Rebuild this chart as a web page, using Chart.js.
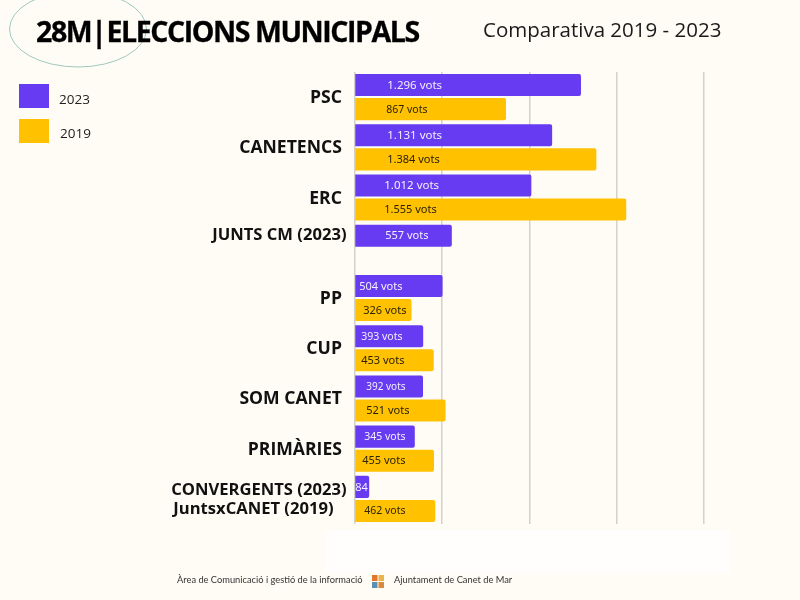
<!DOCTYPE html>
<html lang="ca"><head><meta charset="utf-8">
<script src="https://cdn.jsdelivr.net/npm/chart.js@4"></script>
<style>
html,body{margin:0;padding:0;background:#fffcf6;width:800px;height:600px;overflow:hidden}
#wrap{position:relative;width:800px;height:600px}
canvas{position:absolute;left:0;top:0}
.t{position:absolute;white-space:nowrap;color:#111}
#title{left:36px;top:11px;font:700 28.5px/40px "Open Sans",sans-serif;letter-spacing:-1.42px;-webkit-text-stroke:.3px #000;color:#000}
#title span{margin-left:-5px}
#sub{left:483px;top:14px;font:400 20.5px/30px "Open Sans",sans-serif;color:#1a1a1a}
.sw{position:absolute;left:19px;width:30px;height:23.5px}
.lg{font:400 13.5px/18px "Open Sans",sans-serif;color:#222}
.ft{font:400 9.3px/14px Lato,sans-serif;color:#333;top:573px}
#blank{position:absolute;left:325px;top:530px;width:405px;height:43px;background:#fffefc}
#ell{position:absolute;left:0;top:0}
</style></head><body><div id="wrap">
<div id="blank"></div>
<canvas id="c" width="800" height="600"></canvas>
<svg id="ell" width="800" height="600"><ellipse cx="78" cy="29" rx="68.5" ry="38" fill="none" stroke="#9cc9bd" stroke-width="1"/>
<g><rect x="372" y="575" width="5.5" height="6" fill="#e2762c"/><rect x="378.5" y="575" width="5.5" height="6" fill="#e9b44c"/><rect x="372" y="582" width="5.5" height="6" fill="#5f8fb0"/><rect x="378.5" y="582" width="5.5" height="6" fill="#d98a3a"/></g></svg>
<div class="t" id="title">28M| <span>ELECCIONS MUNICIPALS</span></div>
<div class="t" id="sub">Comparativa 2019 - 2023</div>
<div class="sw" id="s23" style="top:84px"></div><div class="t lg" style="left:59px;top:90px">2023</div>
<div class="sw" id="s19" style="top:119px"></div><div class="t lg" style="left:60px;top:124px">2019</div>
<div class="t ft" style="left:177px">Àrea de Comunicació i gestió de la informació</div>
<div class="t ft" style="left:394px">Ajuntament de Canet de Mar</div>
</div>
<script>
const categories = ["PSC","CANETENCS","ERC","JUNTS CM (2023)","PP","CUP","SOM CANET","PRIMÀRIES",["CONVERGENTS (2023)","JuntsxCANET (2019)"]];
const votes2023 = [1296,1131,1012,557,504,393,392,345,84];
const votes2019 = [867,1384,1555,null,326,453,521,455,462];
const xTicks = [0,500,1000,1500,2000];
const purple = "#673bf2", yellow = "#ffc100";
// label presentation (not data)
const inset2023 = [32,32,29,30,4,6,11,9,0];
const inset2019 = [31,32,29,0,8,6,11,7,9];
const size2023 = [11.5,11.5,11.5,11,11,10.5,10,10.5,11];
const size2019 = [10.5,11,11,0,11,11,11,11,10.5];
const catSize = [17.6,17.6,17.6,16.6,17.6,17.6,17.6,17.6,16.6];
const catLine = [1.15,1.15,1.15,1.6,1.15,1.15,1.15,1.15,1.15];

document.getElementById("s23").style.background = purple;
document.getElementById("s19").style.background = yellow;

const fmt = v => { const s = String(v); const n = s.length>3 ? s.slice(0,-3)+"."+s.slice(-3) : s; return v<100 ? n : n+" vots"; };
const valueLabels = {
  id:"valueLabels",
  afterDatasetsDraw(chart){
    const ctx = chart.ctx;
    [[0,votes2023,inset2023,size2023,"#f4efff"],[1,votes2019,inset2019,size2019,"#2b2300"]].forEach(([d,vals,ins,sz,col])=>{
      const meta = chart.getDatasetMeta(d);
      vals.forEach((v,i)=>{
        if(v==null) return;
        const el = meta.data[i];
        ctx.save();
        ctx.font = `400 ${sz[i]}px "Noto Sans",sans-serif`;
        ctx.fillStyle = col; ctx.textAlign="left"; ctx.textBaseline="middle";
        ctx.fillText(fmt(v), el.base+ins[i], el.y+0.5);
        ctx.restore();
      });
    });
  }
};
new Chart(document.getElementById("c"),{
  type:"bar",
  data:{labels:categories,datasets:[
    {label:"2023",data:votes2023,backgroundColor:purple,borderRadius:2,barPercentage:0.917,categoryPercentage:0.958},
    {label:"2019",data:votes2019,backgroundColor:yellow,borderRadius:2,barPercentage:0.917,categoryPercentage:0.958}
  ]},
  options:{
    indexAxis:"y",responsive:false,animation:false,
    layout:{padding:{top:72,bottom:76,right:96,left:0}},
    plugins:{legend:{display:false},tooltip:{enabled:false}},
    scales:{
      x:{min:xTicks[0],max:xTicks[xTicks.length-1],
        afterBuildTicks(s){s.ticks=xTicks.map(value=>({value}));},
        ticks:{display:false},border:{display:false},
        grid:{color:"#d4d0ca",lineWidth:1.5,drawTicks:false}},
      y:{
        afterFit(s){s.width=354.5;},
        grid:{display:false},border:{display:false},
        ticks:{autoSkip:false,padding:0,labelOffset:1,color:"#111",
          font:c=>({family:'"Open Sans",sans-serif',weight:"700",size:catSize[c.index]??17,lineHeight:catLine[c.index]??1.15}),
          callback(value,index){
            const l = categories[index];
            if(index===3) return [l,""];
            if(Array.isArray(l)) return [l[0],l[1]+"\u00a0\u00a0\u00a0"];
            return l+"\u00a0";
          }}
      }
    }
  },
  plugins:[valueLabels]
});
</script></body></html>
